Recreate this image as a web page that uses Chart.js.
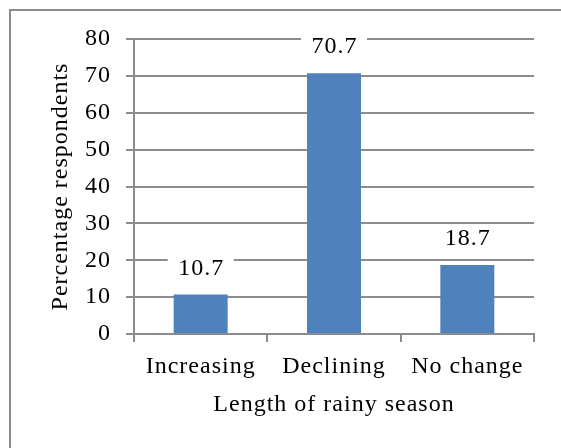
<!DOCTYPE html>
<html>
<head>
<meta charset="utf-8">
<script src="https://cdn.jsdelivr.net/npm/chart.js@4/dist/chart.umd.min.js"></script>
<style>
  html, body { margin: 0; padding: 0; background: #fff; }
  #wrap { position: relative; width: 561px; height: 448px; overflow: hidden; }
  #frame { position: absolute; left: 9px; top: 9px; width: 700px; height: 700px;
           border-left: 2px solid #8c8c8c; border-top: 2px solid #8c8c8c; pointer-events: none; }
  canvas { position: absolute; left: 0; top: 0; }
</style>
</head>
<body>
<div id="wrap">
  <canvas id="c" width="561" height="448"></canvas>
  <div id="frame"></div>
</div>
<script>
const categories = ["Increasing", "Declining", "No change"];
const values = [10.7, 70.7, 18.7];
const yTicks = [0, 10, 20, 30, 40, 50, 60, 70, 80];
const xTitle = "Length of rainy season";
const yTitle = "Percentage respondents";

const FONT = "'Liberation Serif', 'Times New Roman', serif";
const GRID = '#8c8c8c';

const spacingPlugin = {
  id: 'spacing',
  beforeUpdate(chart) { chart.ctx.letterSpacing = '1px'; },
  beforeDraw(chart) { chart.ctx.letterSpacing = '1px'; }
};

const labelPlugin = {
  id: 'valueLabels',
  afterDatasetsDraw(chart) {
    const ctx = chart.ctx;
    const meta = chart.getDatasetMeta(0);
    ctx.save();
    ctx.letterSpacing = '1px';
    ctx.font = '24px ' + FONT;
    ctx.textAlign = 'center';
    ctx.textBaseline = 'alphabetic';
    meta.data.forEach((bar, i) => {
      const txt = String(values[i]);
      const w = ctx.measureText(txt).width;
      const base = bar.y - 20;
      ctx.fillStyle = '#fff';
      ctx.fillRect(bar.x - w / 2 - 10, base - 18, w + 20, 21);
      ctx.fillStyle = '#000';
      ctx.fillText(txt, bar.x + 0.5, base);
    });
    ctx.restore();
  }
};

new Chart(document.getElementById('c'), {
  type: 'bar',
  data: {
    labels: categories,
    datasets: [{
      data: values,
      backgroundColor: '#4F81BD',
      borderWidth: 0,
      barPercentage: 0.405,
      categoryPercentage: 1.0
    }]
  },
  options: {
    responsive: false,
    animation: false,
    devicePixelRatio: 1,
    layout: { padding: { left: 0, right: 27, top: 39, bottom: 0 } },
    plugins: { legend: { display: false }, tooltip: { enabled: false } },
    scales: {
      x: {
        grid: { drawOnChartArea: false, drawTicks: true, tickLength: 8, color: GRID, lineWidth: 2, offset: true },
        border: { color: GRID, width: 2 },
        ticks: { color: '#000', font: { family: FONT, size: 24 }, padding: 10, maxRotation: 0 },
        title: { display: true, text: xTitle, color: '#000', font: { family: FONT, size: 24 }, padding: { top: 0, bottom: 29 } },
        afterFit(scale) { scale.height = 114; }
      },
      y: {
        min: 0, max: 80,
        afterBuildTicks(scale) { scale.ticks = yTicks.map(v => ({ value: v })); },
        grid: { drawOnChartArea: true, drawTicks: true, tickLength: 8, color: GRID, lineWidth: 2 },
        border: { color: GRID, width: 2 },
        ticks: { color: '#000', font: { family: FONT, size: 24 }, padding: 15 },
        title: { display: true, text: yTitle, color: '#000', font: { family: FONT, size: 24 }, padding: { top: 46, bottom: 0 } },
        afterFit(scale) { scale.width = 134; }
      }
    }
  },
  plugins: [spacingPlugin, labelPlugin]
});
</script>
</body>
</html>
